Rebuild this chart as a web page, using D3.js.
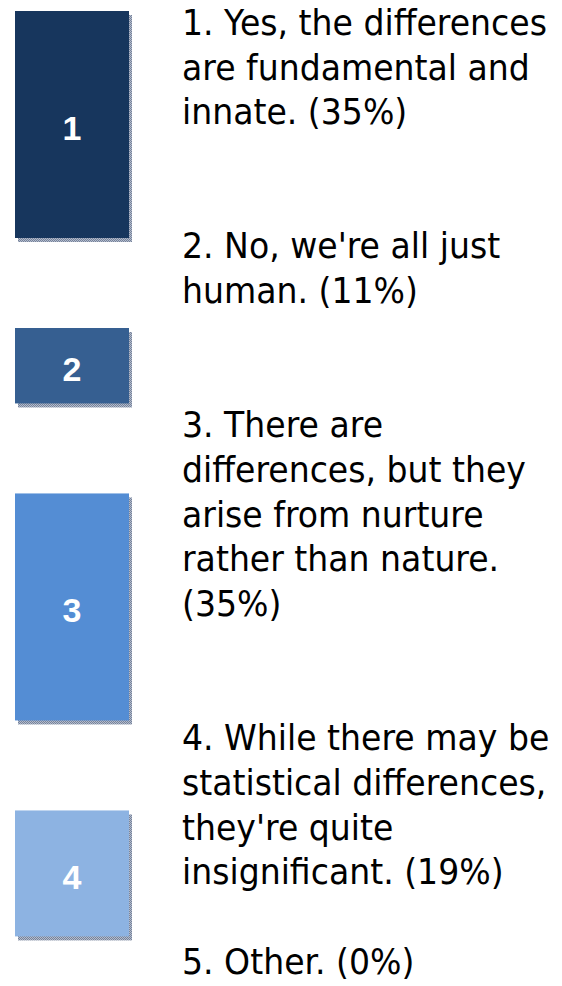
<!DOCTYPE html>
<html>
<head>
<meta charset="utf-8">
<script src="https://cdn.jsdelivr.net/npm/d3@7"></script>
<style>
  body { margin: 0; background: #fff; }
  svg { display: block; }
</style>
</head>
<body>
<svg width="562" height="986"></svg>
<script>
// poll results
const labels = ["1", "2", "3", "4", "5"];
const answers = [
  ["1. Yes, the differences", "are fundamental and", "innate. (35%)"],
  ["2. No, we're all just", "human. (11%)"],
  ["3. There are", "differences, but they", "arise from nurture", "rather than nature.", "(35%)"],
  ["4. While there may be", "statistical differences,", "they're quite", "insignificant. (19%)"],
  ["5. Other. (0%)"]
];
// share of votes
const shares = [34.6, 11.5, 34.6, 19.2, 0];
const blankLines = [2, 2, 2, 1];
const barColors = ["#17365d", "#365f91", "#548dd4", "#8db3e2", "#c6d9f1"];

const svg = d3.select("svg");

const barX = 15, barW = 114, barTop = 11, barGap = 90;
const textX = 182, firstBaseline = 35, lineH = 44.7, refWidth = 365;

const h = d3.scaleLinear().domain([0, d3.max(shares)]).range([0, 227]);

// stack bars downward with a fixed gap
let y0 = barTop;
const bars = shares.map((v, i) => {
  const b = {i, v, y: y0, h: h(v)};
  y0 += h(v) + barGap;
  return b;
}).filter(b => b.v > 0);

const defs = svg.append("defs");
const pat = defs.append("pattern")
    .attr("id", "dither")
    .attr("width", 2).attr("height", 2)
    .attr("patternUnits", "userSpaceOnUse");
pat.append("rect").attr("width", 2).attr("height", 2).attr("fill", "#b4bccb");
pat.append("rect").attr("width", 1).attr("height", 1).attr("fill", "#75829b");
pat.append("rect").attr("x", 1).attr("y", 1).attr("width", 1).attr("height", 1).attr("fill", "#75829b");

const g = svg.append("g");

g.selectAll("rect.shadow")
  .data(bars)
  .join("rect")
    .attr("class", "shadow")
    .attr("x", barX + 3)
    .attr("y", d => d.y + 4)
    .attr("width", barW)
    .attr("height", d => d.h)
    .attr("fill", "url(#dither)");

g.selectAll("rect.bar")
  .data(bars)
  .join("rect")
    .attr("class", "bar")
    .attr("x", barX)
    .attr("y", d => d.y)
    .attr("width", barW)
    .attr("height", d => d.h)
    .attr("fill", d => barColors[d.i]);

g.selectAll("text.num")
  .data(bars)
  .join("text")
    .attr("class", "num")
    .attr("x", barX + barW / 2)
    .attr("y", d => d.y + d.h / 2 + 3)
    .attr("dy", "0.36em")
    .attr("text-anchor", "middle")
    .attr("fill", "#fff")
    .style("font-family", "'Liberation Sans', Arial, sans-serif")
    .style("font-weight", "bold")
    .style("font-size", "34px")
    .text(d => labels[d.i]);

// answer texts flow down the right column
let line = 0;
const blocks = answers.map((lines, i) => {
  const start = line;
  line += lines.length + (blankLines[i] || 0);
  return {lines, start};
});

const tg = svg.append("g");
const txt = tg.selectAll("text")
  .data(blocks)
  .join("text")
    .attr("x", 0)
    .attr("y", d => firstBaseline + d.start * lineH)
    .attr("fill", "#000")
    .style("font-family", "'DejaVu Sans', Verdana, sans-serif")
    .style("font-size", "35px");

txt.selectAll("tspan")
  .data(d => d.lines.map((t, k) => ({t, y: firstBaseline + (d.start + k) * lineH})))
  .join("tspan")
    .attr("x", 0)
    .attr("y", d => d.y)
    .text(d => d.t);

// squeeze horizontally so the first line matches the original width
const w0 = txt.select("tspan").node().getComputedTextLength();
tg.attr("transform", `translate(${textX},0) scale(${refWidth / w0},1)`);
</script>
</body>
</html>
